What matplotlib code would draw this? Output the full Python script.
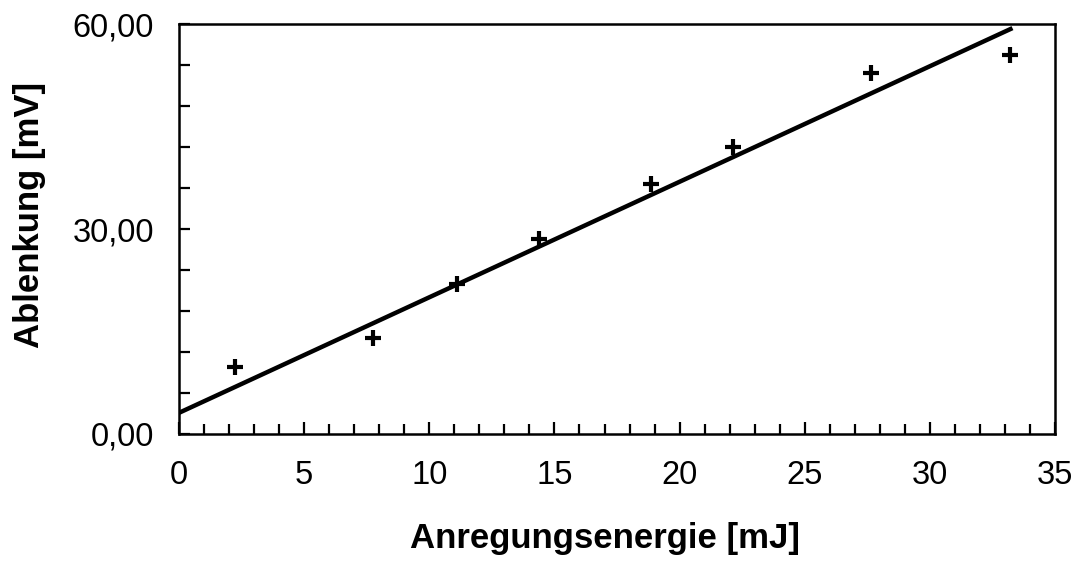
import matplotlib
matplotlib.use("Agg")
import matplotlib.pyplot as plt
from matplotlib.ticker import MultipleLocator, FuncFormatter

plt.rcParams['font.family'] = ['Liberation Sans', 'DejaVu Sans']

# measured points
energie = [2.25, 7.75, 11.1, 14.4, 18.85, 22.15, 27.65, 33.2]
ablenkung = [9.8, 14.0, 22.0, 28.5, 36.6, 42.0, 52.9, 55.5]

# fitted line (end points)
fit_x = [0.0, 33.3]
fit_y = [3.1, 59.4]

xticks = [0, 5, 10, 15, 20, 25, 30, 35]
yticks = [0, 30, 60]

fig = plt.figure(figsize=(10.76, 5.61), dpi=100)
ax = fig.add_axes([0.1664, 0.2264, 0.8141, 0.7308])

ax.plot(fit_x, fit_y, color='black', lw=3.2, solid_capstyle='butt')
ax.plot(energie, ablenkung, ls='none', marker='+', ms=11, mew=3.0, color='black')

ax.set_xlim(0, 35)
ax.set_ylim(0, 60)
ax.set_xticks(xticks)
ax.set_yticks(yticks)
ax.xaxis.set_minor_locator(MultipleLocator(1))
ax.yaxis.set_minor_locator(MultipleLocator(6))
ax.yaxis.set_major_formatter(FuncFormatter(lambda v, p: f"{v:.2f}".replace('.', ',')))

ax.tick_params(axis='x', which='major', direction='in', length=9, width=1.6,
               labelsize=23.5, pad=19)
ax.tick_params(axis='x', which='minor', direction='in', length=7, width=1.6)
ax.tick_params(axis='y', which='major', direction='in', length=8, width=1.6,
               labelsize=23.5, pad=18)
ax.tick_params(axis='y', which='minor', direction='in', length=8, width=1.6)

for s in ax.spines.values():
    s.set_linewidth(1.8)

ax.set_xlabel('Anregungsenergie [mJ]', fontsize=25, fontweight='bold')
ax.set_ylabel('Ablenkung [mV]', fontsize=25, fontweight='bold')
# labels sit a little off-centre in the original
ax.xaxis.set_label_coords(0.486, -0.215)
ax.yaxis.set_label_coords(-0.152, 0.534)

fig.savefig('out.png', dpi=100)
